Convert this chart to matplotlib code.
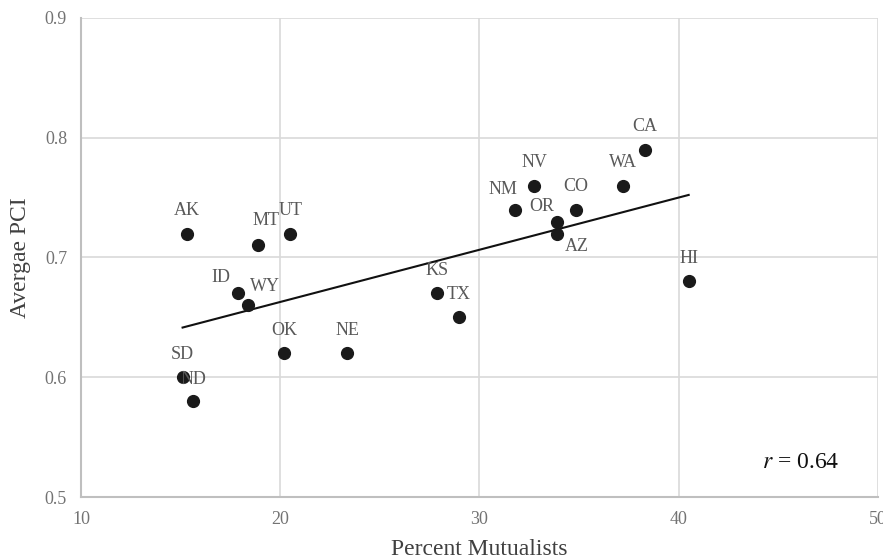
import numpy as np
import matplotlib.pyplot as plt

# -----------------------------------------------------------------
# DADOS
# -----------------------------------------------------------------
states = ['AK', 'SD', 'ND', 'ID', 'WY', 'MT', 'UT', 'OK', 'NE', 'KS',
          'TX', 'NM', 'NV', 'OR', 'AZ', 'CO', 'WA', 'CA', 'HI']
pct_mutualists = [15.3, 15.1, 15.6, 17.9, 18.4, 18.9, 20.5, 20.2, 23.35, 27.85,
                  28.95, 31.8, 32.75, 33.9, 33.9, 34.85, 37.2, 38.3, 40.5]
avg_pci = [0.72, 0.60, 0.58, 0.67, 0.66, 0.71, 0.72, 0.62, 0.62, 0.67,
           0.65, 0.74, 0.76, 0.73, 0.72, 0.74, 0.76, 0.79, 0.68]

# deslocamento dos rótulos (pixels)
label_off = {'ID': (-17, 16), 'WY': (17, 19), 'MT': (8, 25), 'NM': (-12, 20),
             'OR': (-15, 15), 'AZ': (20, -13), 'ND': (1, 22)}

plt.rcParams['font.family'] = ['Liberation Serif', 'DejaVu Serif']
plt.rcParams['mathtext.fontset'] = 'stix'

fig = plt.figure(figsize=(8.83, 5.6), dpi=100)
ax = fig.add_axes([0.0917, 0.1125, 0.9026, 0.8555])

x = np.array(pct_mutualists)
y = np.array(avg_pci)

ax.scatter(x, y, s=72, color='#1a1a1a', zorder=3)

# linha de tendência
a, b = np.polyfit(x, y, 1)
xs = np.array([x.min(), x.max()])
ax.plot(xs, a * xs + b, color='#111111', lw=1.5, zorder=2)

for st, xi, yi in zip(states, x, y):
    dx, dy = label_off.get(st, (0, 23))
    ax.annotate(st, (xi, yi), xytext=(dx, dy), textcoords='offset pixels',
                ha='center', va='center', fontsize=13, color='#595959', zorder=4)

ax.text(44.2, 0.529, '$r$ = 0.64', fontsize=17, color='#111111', va='center')

ax.set_xlim(10, 50)
ax.set_ylim(0.5, 0.9)
ax.set_xticks([10, 20, 30, 40, 50])
ax.set_yticks([0.5, 0.6, 0.7, 0.8, 0.9])
ax.set_yticklabels(['0.5', '0.6', '0.7', '0.8', '0.9'])
ax.tick_params(length=0, labelsize=13, labelcolor='#737373', pad=10)
ax.grid(True, color='#d9d9d9', lw=1.2)
ax.set_axisbelow(True)
for s in ['top', 'right']:
    ax.spines[s].set_visible(False)
for s in ['left', 'bottom']:
    ax.spines[s].set_color('#bfbfbf')
    ax.spines[s].set_linewidth(1.5)

ax.set_xlabel('Percent Mutualists', fontsize=17, color='#404040', labelpad=8)
ax.set_ylabel('Avergae PCI', fontsize=17, color='#404040', labelpad=10)

fig.savefig('out.png', dpi=100)
